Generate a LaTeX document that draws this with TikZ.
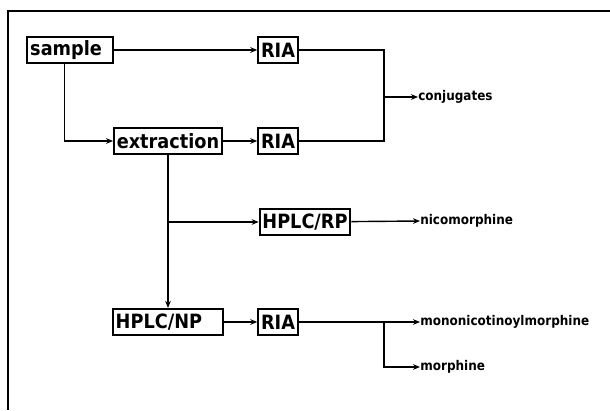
\documentclass[tikz,border=0pt]{standalone}
\usepackage{fontspec}
\setmainfont{DejaVu Sans Condensed}
\usepackage{tikz}
\usetikzlibrary{arrows.meta,positioning,calc}

\begin{document}
\begin{tikzpicture}[
    box/.style={draw, line width=1.3pt, inner xsep=2pt, inner ysep=1pt, minimum height=0.66cm, align=left, font=\fontsize{14}{14}\selectfont\bfseries},
    lbl/.style={anchor=west, inner sep=0pt, font=\fontsize{9.5}{10}\selectfont\bfseries},
    arr/.style={-{Stealth[length=5pt,width=4pt]}, line width=1pt},
    ln/.style={line width=1pt}
]
\useasboundingbox (0,0) rectangle (15.25,-10.25);
\draw[line width=1.3pt] (0.2,-10.25) -- (0.2,-0.275) -- (15.25,-0.275);

\node[box, text width=2.2cm-6pt] (smp) at (1.75,-1.25) {sample};
\node[box] (ria1) at (6.95,-1.25) {RIA};
\node[box] (ext) at (4.2,-3.525) {extraction};
\node[box] (ria2) at (6.95,-3.525) {RIA};
\node[box] (rp) at (7.625,-5.55) {HPLC/RP};
\node[box, text width=2.825cm-6pt] (np) at (4.2,-8.05) {HPLC/NP};
\node[box] (ria3) at (6.95,-8.05) {RIA};

\node[lbl] (conj) at (10.45,-2.425) {conjugates};
\node[lbl] (nico) at (10.5,-5.525) {nicomorphine};
\node[lbl] (mono) at (10.5,-8.05) {mononicotinoylmorphine};
\node[lbl] (morph) at (10.5,-9.175) {morphine};

\coordinate (jc) at (9.6,-2.425);
\coordinate (jm) at (9.6,-8.05);

\draw[arr] (smp) -- (ria1);
\draw[arr] ([xshift=-4pt]smp.south) |- (ext.west);
\draw[arr] (ext) -- (ria2);
\draw[ln] (ria1.east) -| (jc) |- (ria2.east);
\draw[arr] (jc) -- (conj.west);
\draw[arr] (ext.south) -- (np.north);
\draw[arr] (ext.south |- rp.west) -- (rp.west);
\draw[arr] (rp) -- (nico.west);
\draw[arr] (np) -- (ria3);
\draw[arr] (ria3) -- (mono.west);
\draw[arr] (jm) |- (morph.west);
\end{tikzpicture}
\end{document}
